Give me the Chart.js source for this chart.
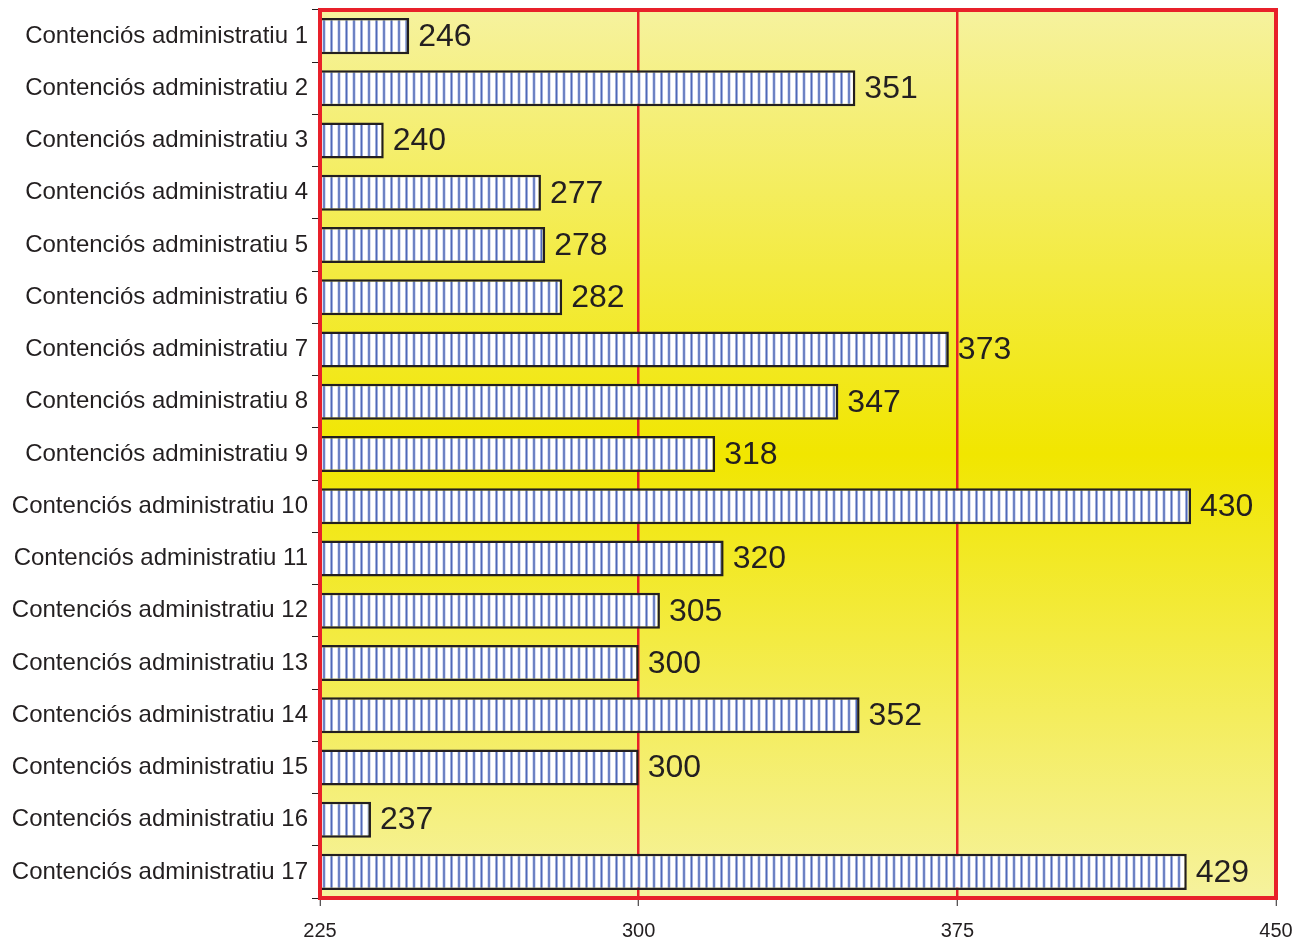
<!DOCTYPE html>
<html><head><meta charset="utf-8">
<script src="https://cdn.jsdelivr.net/npm/chart.js@4/dist/chart.umd.min.js"></script>
<style>html,body{margin:0;padding:0;background:#fff}#wrap{width:1297px;height:940px}</style>
</head><body><div id="wrap"><canvas id="c" width="1297" height="940"></canvas></div>
<script>
const categories = ["Contenciós administratiu 1","Contenciós administratiu 2","Contenciós administratiu 3","Contenciós administratiu 4","Contenciós administratiu 5","Contenciós administratiu 6","Contenciós administratiu 7","Contenciós administratiu 8","Contenciós administratiu 9","Contenciós administratiu 10","Contenciós administratiu 11","Contenciós administratiu 12","Contenciós administratiu 13","Contenciós administratiu 14","Contenciós administratiu 15","Contenciós administratiu 16","Contenciós administratiu 17"];
const values = [246,351,240,277,278,282,373,347,318,430,320,305,300,352,300,237,429];
const xTicks = [225,300,375,450];

// stripe pattern
const pc = document.createElement('canvas'); pc.width = 15; pc.height = 10;
const pctx = pc.getContext('2d');
pctx.fillStyle = '#ffffff'; pctx.fillRect(0,0,15,10);
pctx.fillStyle = '#b3c0e6'; pctx.fillRect(0,0,3,10); pctx.fillRect(7.5,0,3,10);
pctx.fillStyle = '#5068b6'; pctx.fillRect(0.8,0,1.4,10); pctx.fillRect(8.3,0,1.4,10);
const ctx = document.getElementById('c').getContext('2d');
const pattern = ctx.createPattern(pc,'repeat');

const bgPlugin = {
  id:'bg',
  beforeDraw(chart){
    const {ctx, chartArea:a} = chart;
    const g = ctx.createLinearGradient(0,a.top,0,a.bottom);
    g.addColorStop(0,'#f6f29e'); g.addColorStop(0.5,'#f1e600'); g.addColorStop(1,'#f6f29e');
    ctx.save(); ctx.fillStyle = g; ctx.fillRect(a.left,a.top,a.right-a.left,a.bottom-a.top); ctx.restore();
  },
  afterDatasetsDraw(chart){
    const {ctx, chartArea:a} = chart;
    ctx.save();
    ctx.strokeStyle = '#e8202a'; ctx.lineWidth = 4;
    ctx.strokeRect(a.left,a.top,a.right-a.left,a.bottom-a.top);
    const meta = chart.getDatasetMeta(0);
    ctx.fillStyle = '#231f20'; ctx.font = '32px "Liberation Sans", Arial, sans-serif';
    ctx.textBaseline = 'middle'; ctx.textAlign = 'left';
    meta.data.forEach((el,i)=>{ ctx.fillText(String(values[i]), el.x + 9, el.y + 1); });
    ctx.restore();
  }
};

new Chart(ctx, {
  type:'bar',
  data:{labels:categories, datasets:[{data:values, backgroundColor:pattern, borderColor:'#231f20', borderWidth:2.5, barPercentage:0.69, categoryPercentage:1, base:225}]},
  options:{
    indexAxis:'y', responsive:false, animation:false,
    layout:{padding:{left:0,right:21,top:10,bottom:0}},
    plugins:{legend:{display:false}, tooltip:{enabled:false}},
    scales:{
      x:{min:225,max:450,
        afterBuildTicks(s){ s.ticks = xTicks.map(v=>({value:v})); },
        afterFit(s){ s.height = 42; s.paddingLeft = 0; s.paddingRight = 0; },
        border:{display:false},
        grid:{drawOnChartArea:true, color:(c)=> (c.tick && (c.tick.value===300||c.tick.value===375)) ? '#e8202a' : 'rgba(0,0,0,0)', lineWidth:2.5, tickColor:'#231f20', tickLength:8, tickWidth:1},
        ticks:{color:'#231f20', font:{family:'"Liberation Sans", Arial, sans-serif', size:20}, padding:13, maxRotation:0}
      },
      y:{
        afterFit(s){ s.width = 320; s.paddingTop = 0; s.paddingBottom = 0; },
        border:{display:false},
        grid:{offset:true, drawOnChartArea:false, tickColor:'#231f20', tickLength:8, tickWidth:1},
        ticks:{color:'#231f20', font:{family:'"Liberation Sans", Arial, sans-serif', size:24}, padding:4, autoSkip:false}
      }
    }
  },
  plugins:[bgPlugin]
});
</script></body></html>
